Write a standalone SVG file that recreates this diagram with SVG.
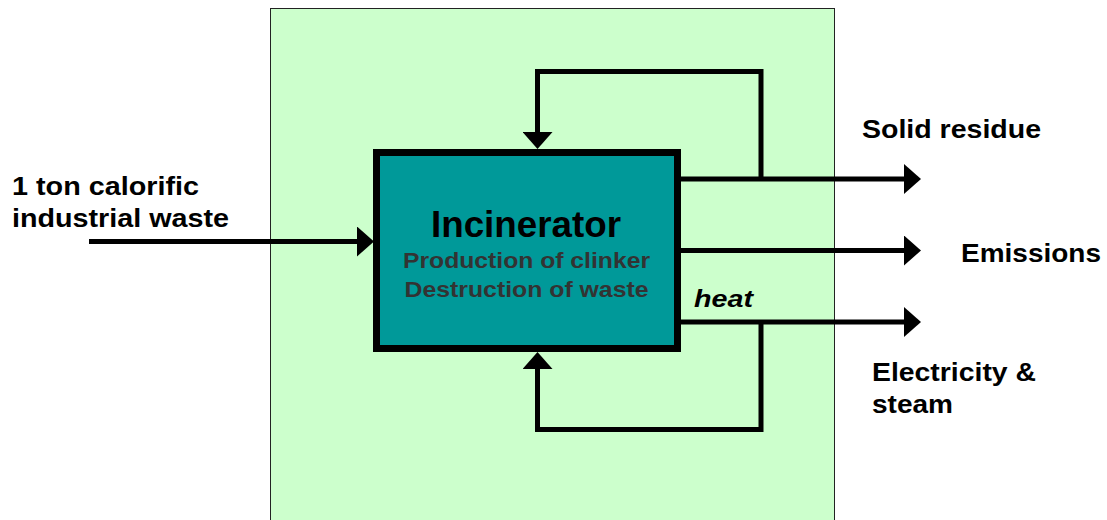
<svg xmlns="http://www.w3.org/2000/svg" width="1107" height="520" viewBox="0 0 1107 520">
  <defs>
    <marker id="arrow" viewBox="0 -15 17 30" refX="0" refY="0" markerWidth="17" markerHeight="30" markerUnits="userSpaceOnUse" orient="auto">
      <path d="M0,-15 L17,0 L0,15 z" fill="#000"/>
    </marker>
    <style>
      .lbl { font-family: "Liberation Sans", Arial, sans-serif; font-weight: bold; font-size: 26px; fill: #000; }
      .con { fill: none; stroke: #000; stroke-width: 5; stroke-linejoin: miter; }
      .sub { font-family: "Liberation Sans", Arial, sans-serif; font-weight: bold; font-size: 22px; fill: #333333; }
    </style>
  </defs>
  <rect width="1107" height="520" fill="#ffffff"/>
  <g id="system-boundary">
    <rect x="270.5" y="8.5" width="564" height="520" fill="#CCFFCC" stroke="#222" stroke-width="1"/>
  </g>
  <g id="incinerator">
    <rect x="376.5" y="152.5" width="301" height="196" fill="#009999" stroke="#000" stroke-width="7"/>
    <text x="526" y="237" text-anchor="middle" font-family="Liberation Sans, Arial, sans-serif" font-weight="bold" font-size="36" textLength="190" lengthAdjust="spacingAndGlyphs">Incinerator</text>
    <text class="sub" x="526.5" y="268" text-anchor="middle" textLength="247" lengthAdjust="spacingAndGlyphs">Production of clinker</text>
    <text class="sub" x="526.5" y="297" text-anchor="middle" textLength="244" lengthAdjust="spacingAndGlyphs">Destruction of waste</text>
  </g>
  <g id="connectors">
    <line class="con" x1="89" y1="241.5" x2="357" y2="241.5" marker-end="url(#arrow)"/>
    <line class="con" x1="681" y1="179" x2="904" y2="179" marker-end="url(#arrow)"/>
    <line class="con" x1="681" y1="250.5" x2="904" y2="250.5" marker-end="url(#arrow)"/>
    <line class="con" x1="681" y1="322" x2="904" y2="322" marker-end="url(#arrow)"/>
    <polyline class="con" points="761,179 761,71.5 537.5,71.5 537.5,132" marker-end="url(#arrow)"/>
    <polyline class="con" points="761,322 761,429.5 537.5,429.5 537.5,369" marker-end="url(#arrow)"/>
  </g>
  <g id="input-label">
    <text class="lbl" x="12" y="195" textLength="187" lengthAdjust="spacingAndGlyphs">1 ton calorific</text>
    <text class="lbl" x="12" y="227" textLength="217" lengthAdjust="spacingAndGlyphs">industrial waste</text>
  </g>
  <g id="solid-residue">
    <text class="lbl" x="862" y="138" textLength="179" lengthAdjust="spacingAndGlyphs">Solid residue</text>
  </g>
  <g id="emissions">
    <text class="lbl" x="961" y="262" textLength="140" lengthAdjust="spacingAndGlyphs">Emissions</text>
  </g>
  <g id="electricity">
    <text class="lbl" x="872" y="381" textLength="164" lengthAdjust="spacingAndGlyphs">Electricity &amp;</text>
    <text class="lbl" x="872" y="413" textLength="81" lengthAdjust="spacingAndGlyphs">steam</text>
  </g>
  <g id="heat-label">
    <text x="694" y="307" font-family="Liberation Sans, Arial, sans-serif" font-weight="bold" font-style="italic" font-size="24" textLength="59" lengthAdjust="spacingAndGlyphs">heat</text>
  </g>
</svg>
